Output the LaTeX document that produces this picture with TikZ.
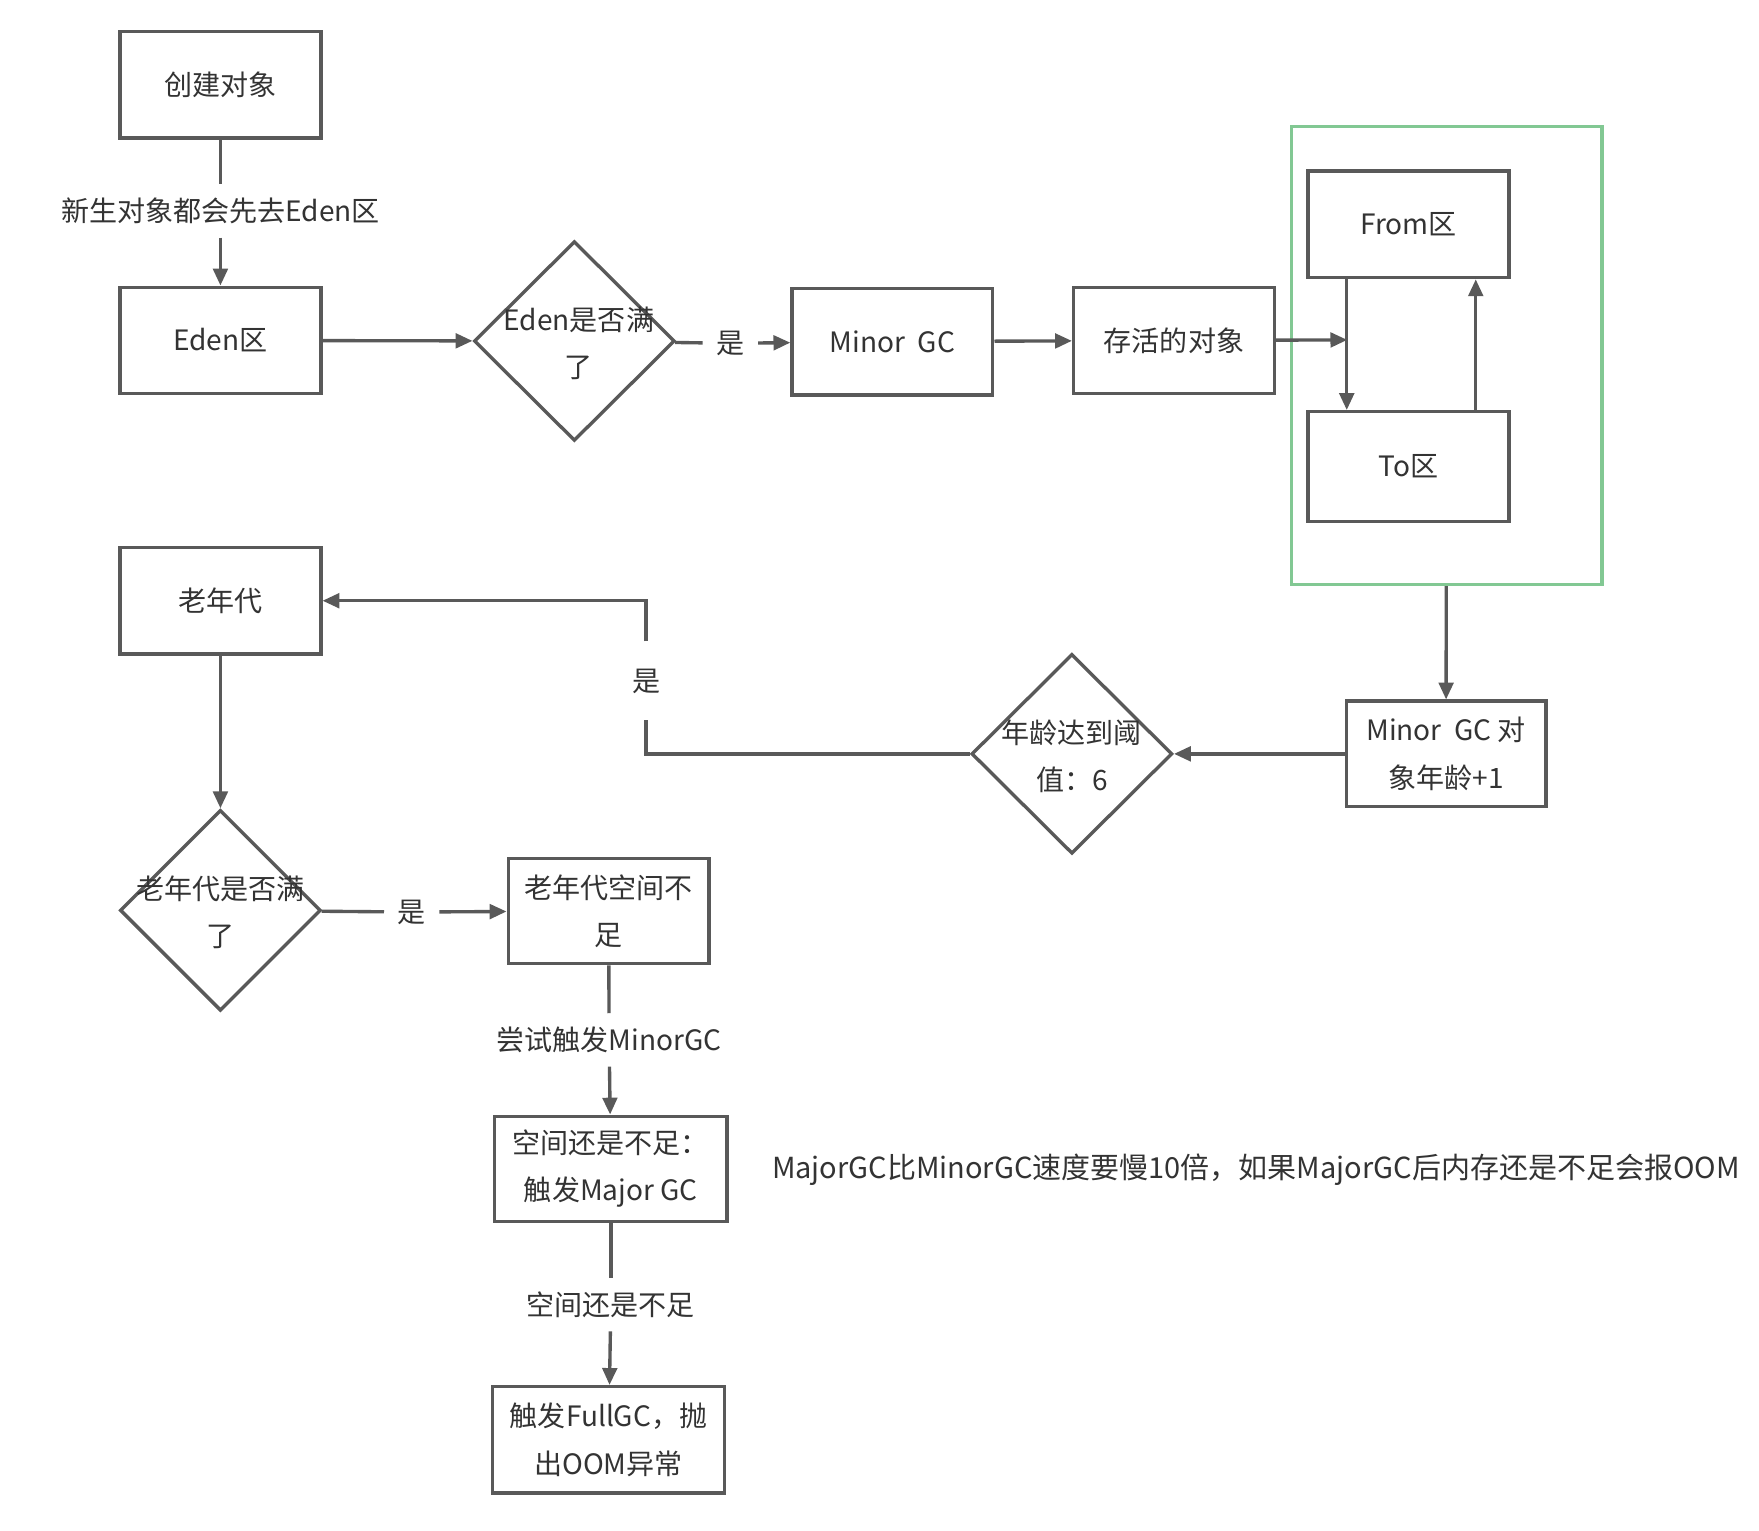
\documentclass[tikz,border=0pt]{standalone}
\usepackage{fontspec}
\setmainfont{Noto Sans CJK SC}
\usepackage{xcolor}
\usetikzlibrary{shapes.geometric,arrows.meta}
\definecolor{edgegray}{HTML}{595959}
\definecolor{textgray}{HTML}{333333}
\definecolor{zonegreen}{HTML}{82C893}

\begin{document}
\begin{tikzpicture}[x=1pt,y=-1pt,
            every node/.style={text=textgray,font=\fontsize{25}{42}\selectfont},
            box/.style={draw=edgegray,line width=3pt,minimum width=179pt,minimum height=95pt,align=center,inner sep=0pt},
            widebox/.style={box,minimum width=207pt},
            decision/.style={draw=edgegray,line width=3pt,diamond,minimum width=179pt,minimum height=178pt,inner sep=0pt},
            zone/.style={draw=zonegreen,line width=3pt,minimum width=277pt,minimum height=408pt,inner sep=0pt},
            lbl/.style={inner sep=12pt,align=center},
            line/.style={draw=edgegray,line width=3pt},
            arrow/.style={line,-{Triangle[length=15pt,width=13pt]}}]
            \useasboundingbox (0,0) rectangle (1568,1364);

            \node[box] (create) at (196.5,75.5) {创建对象};
            \node[box] (eden) at (196.5,303.5) {Eden区};
            \node[decision] (edenfull) at (512,304) {};
            \node[lbl,inner sep=0pt] (edenfulltxt) at (516,306) {Eden是否满\\了};
            \node[box] (minorgc) at (795.5,304.5) {Minor\ \ GC};
            \node[box] (alive) at (1046.5,303.5) {存活的对象};
            \node[zone] (survivor) at (1289.5,317) {};
            \node[box] (from) at (1255.5,200) {From区};
            \node[box,minimum height=98pt] (to) at (1255.5,416) {To区};
            \coordinate (swap) at (1201,303);
            \node[box,minimum width=178pt,minimum height=94pt] (ageplus) at (1289,672) {Minor\ \ GC 对\\象年龄+1};
            \node[decision] (age) at (955.5,672) {};
            \node[lbl,inner sep=0pt] (agetxt) at (955.5,674) {年龄达到阈\\值：6};
            \node[box] (old) at (196.5,535.5) {老年代};
            \node[decision,minimum height=179pt] (oldfull) at (196.5,811.5) {};
            \node[lbl,inner sep=0pt] (oldfulltxt) at (196.5,813) {老年代是否满\\了};
            \node[box,minimum height=94pt] (oldlow) at (542.5,812) {老年代空间不\\足};
            \node[widebox,minimum height=94pt] (major) at (544.5,1042) {空间还是不足：\\触发Major GC};
            \node[widebox] (full) at (542.5,1283.5) {触发FullGC，抛\\出OOM异常};
            \node[lbl,inner sep=0pt,anchor=west,font=\fontsize{25.85}{42}\selectfont] (note) at (688,1043) {MajorGC比MinorGC速度要慢10倍，如果MajorGC后内存还是不足会报OOM};

            \node[lbl] (l1) at (196.5,188) {新生对象都会先去Eden区};
            \node[lbl] (l2) at (651,306) {是};
            \node[lbl,inner sep=24pt] (l3) at (576,607) {是};
            \node[lbl] (l4) at (367,813) {是};
            \node[lbl] (l5) at (543,927) {尝试触发MinorGC};
            \node[lbl] (l6) at (544.5,1163) {空间还是不足};

            \draw[line] (create) -- (l1);
            \draw[arrow] (l1) -- (eden);
            \draw[arrow] (eden) -- (edenfull);
            \draw[line] (edenfull) -- (l2);
            \draw[arrow] (l2) -- (minorgc);
            \draw[arrow] (minorgc) -- (alive);
            \draw[arrow] (alive) -- (swap);
            \draw[arrow] ([xshift=36pt]from.south west) -- ([xshift=36pt]to.north west);
            \draw[arrow] ([xshift=-31pt]to.north east) -- ([xshift=-31pt]from.south east);
            \draw[arrow] (survivor) -- (ageplus);
            \draw[arrow] (ageplus) -- (age);
            \draw[line] (age.west) -| (l3);
            \draw[arrow] (l3) |- (old.east);
            \draw[arrow] (old) -- (oldfull);
            \draw[line] (oldfull) -- (l4);
            \draw[arrow] (l4) -- (oldlow);
            \draw[line] (oldlow) -- (l5);
            \draw[arrow] (l5) -- (major);
            \draw[line] (major) -- (l6);
            \draw[arrow] (l6) -- (full);
        \end{tikzpicture}
\end{document}
